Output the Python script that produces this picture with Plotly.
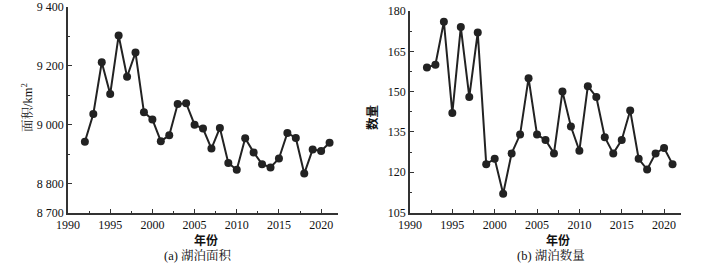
import plotly.graph_objects as go

years = list(range(1992, 2022))
area = [8942, 9036, 9212, 9104, 9303, 9163, 9245, 9042, 9018, 8944,
        8964, 9070, 9073, 9000, 8987, 8919, 8989, 8870, 8847, 8954,
        8906, 8866, 8855, 8885, 8972, 8955, 8834, 8916, 8911, 8939]
count = [159, 160, 176, 142, 174, 148, 172, 123, 125, 112,
         127, 134, 155, 134, 132, 127, 150, 137, 128, 152,
         148, 133, 127, 132, 143, 125, 121, 127, 129, 123]

area_ticks = [8700, 8800, 9000, 9200, 9400]
area_ticktext = ["8 700", "8 800", "9 000", "9 200", "9 400"]
count_ticks = [105, 120, 135, 150, 165, 180]
x_ticks = [1990, 1995, 2000, 2005, 2010, 2015, 2020]

W, H = 708, 267
SERIF = "Liberation Serif, Times New Roman, Noto Serif CJK SC, Noto Sans CJK SC, serif"
CJK = "Noto Sans CJK SC, sans-serif"
INK = "#222222"
AX = "#333333"

fig = go.Figure()
mk = dict(size=8, color=INK)
ln = dict(color=INK, width=2)
fig.add_trace(go.Scatter(x=years, y=area, mode="lines+markers", marker=mk, line=ln,
                         xaxis="x", yaxis="y", showlegend=False, cliponaxis=False))
fig.add_trace(go.Scatter(x=years, y=count, mode="lines+markers", marker=mk, line=ln,
                         xaxis="x2", yaxis="y2", showlegend=False, cliponaxis=False))

def px_x(a, b):
    return [a / W, b / W]

def px_y(top, bottom):
    return [(H - bottom) / H, (H - top) / H]

common_axis = dict(showline=True, linecolor=AX, linewidth=1.5, showgrid=False, zeroline=False,
                   automargin=False, ticklabeloverflow="allow",
                   ticks="inside", ticklen=4, tickwidth=1.2, tickcolor=AX,
                   tickfont=dict(family=SERIF, size=12, color="#111"))
minor_common = dict(ticks="inside", ticklen=2.5, tickwidth=1, tickcolor=AX, showgrid=False)

fig.update_layout(
    template="none",
    width=W, height=H, margin=dict(l=0, r=0, t=0, b=0, autoexpand=False),
    plot_bgcolor="white", paper_bgcolor="white",
    xaxis=dict(domain=px_x(68, 338), range=[1990, 2022], anchor="y",
               tickvals=x_ticks, minor=dict(dtick=2.5, tick0=1990, **minor_common), **common_axis),
    yaxis=dict(domain=px_y(7, 213), range=[8700, 9400], anchor="x",
               tickvals=area_ticks, ticktext=area_ticktext,
               minor=dict(tickvals=[8900, 9100, 9300], **minor_common), **common_axis),
    xaxis2=dict(domain=px_x(410, 681), range=[1990, 2022], anchor="y2",
                tickvals=x_ticks, minor=dict(dtick=2.5, tick0=1990, **minor_common), **common_axis),
    yaxis2=dict(domain=px_y(11, 212.5), range=[105, 180], anchor="x2",
                tickvals=count_ticks,
                minor=dict(dtick=7.5, tick0=105, **minor_common), **common_axis),
)

ann = [
    dict(text="面积/km<sup>2</sup>", x=27 / W, y=(H - 108) / H, textangle=-90,
         font=dict(family=SERIF, size=12.5, color="#111")),
    dict(text="数量", x=372 / W, y=(H - 118) / H, textangle=-90,
         font=dict(family=CJK, size=12.5, color="#111", weight="bold")),
    dict(text="年份", x=206 / W, y=(H - 239) / H,
         font=dict(family=CJK, size=12, color="#111", weight="bold")),
    dict(text="年份", x=558 / W, y=(H - 239) / H,
         font=dict(family=CJK, size=12, color="#111", weight="bold")),
    dict(text="(a) 湖泊面积", x=198 / W, y=(H - 255) / H,
         font=dict(family=SERIF, size=12.5, color="#111")),
    dict(text="(b) 湖泊数量", x=551 / W, y=(H - 255) / H,
         font=dict(family=SERIF, size=12.5, color="#111")),
]
for a in ann:
    a.update(xref="paper", yref="paper", showarrow=False, xanchor="center", yanchor="middle")
fig.update_layout(annotations=ann)

fig.write_html("out.html", config={"displayModeBar": False},
               post_script="document.body.style.margin='0';document.body.style.padding='0';document.body.style.overflow='hidden';")
